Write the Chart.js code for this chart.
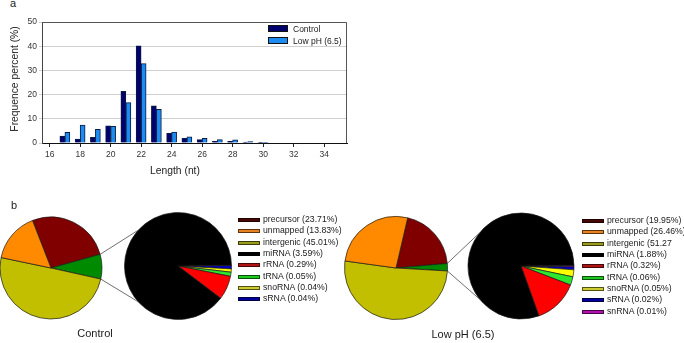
<!DOCTYPE html>
<html>
<head>
<meta charset="utf-8">
<script src="https://cdn.jsdelivr.net/npm/chart.js@4.4.1/dist/chart.umd.min.js"></script>
<style>
  html, body { margin: 0; padding: 0; background: #fff; }
  body { position: relative; width: 684px; height: 343px; overflow: hidden;
         font-family: "Liberation Sans", Arial, sans-serif; color: #1a1a1a; }
  .abs { position: absolute; }
  canvas { display: block; }
  .letter { font-size: 11px; line-height: 12px; }
  .axis-title { font-size: 10.3px; line-height: 12px; text-align: center; white-space: nowrap; color: #222; }
  .bar-key { font-size: 8.5px; line-height: 10px; white-space: nowrap; }
  .bar-key i { position: absolute; width: 18px; height: 5px; border: 1px solid #111; }
  .pie-key { font-size: 8.7px; line-height: 11px; white-space: nowrap; }
  .pie-key div { position: absolute; left: 0; }
  .pie-key i { position: absolute; left: 0; top: 4px; width: 20px; height: 2px; border: 1px solid rgba(0,0,0,0.6); box-sizing: content-box; }
  .pie-key span { position: absolute; }
  .pie-name { font-size: 11px; line-height: 13px; text-align: center; white-space: nowrap; }
</style>
</head>
<body>

<div class="abs letter" style="left:10px;top:-3px">a</div>
<canvas id="lengths" class="abs" width="360" height="180" style="left:0;top:0"></canvas>
<div class="abs axis-title" style="left:-45px;top:73px;width:120px;transform:rotate(-90deg)">Frequence percent (%)</div>
<div class="abs axis-title" style="left:125px;top:165px;width:100px">Length (nt)</div>
<div id="lengths-key" class="abs bar-key" style="left:268px;top:24px"></div>

<div class="abs letter" style="left:11px;top:199px">b</div>
<canvas id="pie-control-all" class="abs" width="112" height="112" style="left:-5px;top:212px"></canvas>
<canvas id="pie-control-small" class="abs" width="112" height="112" style="left:122px;top:210px"></canvas>
<canvas id="pie-low-all" class="abs" width="112" height="112" style="left:340px;top:212px"></canvas>
<canvas id="pie-low-small" class="abs" width="112" height="112" style="left:465px;top:210px"></canvas>
<canvas id="links" class="abs" width="684" height="343" style="left:0;top:0;pointer-events:none"></canvas>
<div id="key-control" class="abs pie-key" style="left:238px;top:214px"></div>
<div id="key-low" class="abs pie-key" style="left:582px;top:215px"></div>
<div class="abs pie-name" style="left:55px;top:327px;width:80px">Control</div>
<div class="abs pie-name" style="left:413px;top:328px;width:100px">Low pH (6.5)</div>

<script>
// ── Panel a: small RNA length distribution ────────────────────────────────
const lengthsNt = [17, 18, 19, 20, 21, 22, 23, 24, 25, 26, 27, 28, 29, 30];
const controlPct = [2.9, 1.6, 2.3, 7.1, 21.3, 40.2, 15.4, 4.0, 1.9, 1.4, 0.7, 0.7, 0.4, 0.25];
const lowPhPct = [4.4, 7.4, 5.6, 6.9, 16.7, 32.8, 13.9, 4.5, 2.5, 1.9, 1.4, 1.3, 0.6, 0.1];
const lengthTicks = [16, 18, 20, 22, 24, 26, 28, 30, 32, 34];
const seriesNames = ['Control', 'Low pH (6.5)'];
const seriesColors = ['#00006e', '#1c8cf2'];

// ── Panel b: read-class composition ───────────────────────────────────────
// Outer pies: precursor / other small RNAs / intergenic / unmapped
const allParts = ['precursor', 'other', 'intergenic', 'unmapped'];
const allColors = ['#800000', '#008a00', '#c2be00', '#ff8a00'];
const controlAll = [26.6, 7.8, 49.8, 15.8];
const lowPhAll = [19.95, 2.34, 51.27, 26.46];

// Zoomed pies: the "other" wedge broken down
const smallParts = ['snRNA', 'sRNA', 'snoRNA', 'tRNA', 'rRNA', 'miRNA'];
const smallColors = ['#c800c8', '#0000c8', '#ffff00', '#2ee62e', '#ff0000', '#000000'];
const controlSmall = [0, 0.04, 0.04, 0.05, 0.29, 3.59];
const lowPhSmall = [0.01, 0.02, 0.05, 0.06, 0.32, 1.88];

// Legends
const keyColors = {
  precursor: '#4a0505', unmapped: '#e8821e', intergenic: '#9a9a1e', miRNA: '#000000',
  rRNA: '#b01515', tRNA: '#1ec81e', snoRNA: '#cccc30', sRNA: '#0000a0', snRNA: '#b010b0',
};
const controlKeyNames = ['precursor', 'unmapped', 'intergenic', 'miRNA', 'rRNA', 'tRNA', 'snoRNA', 'sRNA'];
const controlKeyText = ['precursor (23.71%)', 'unmapped (13.83%)', 'intergenic (45.01%)', 'miRNA (3.59%)',
  'rRNA (0.29%)', 'tRNA (0.05%)', 'snoRNA (0.04%)', 'sRNA (0.04%)'];
const lowKeyNames = ['precursor', 'unmapped', 'intergenic', 'miRNA', 'rRNA', 'tRNA', 'snoRNA', 'sRNA', 'snRNA'];
const lowKeyText = ['precursor (19.95%)', 'unmapped (26.46%)', 'intergenic (51.27', 'miRNA (1.88%)',
  'rRNA (0.32%)', 'tRNA (0.06%)', 'snoRNA (0.05%)', 'sRNA (0.02%)', 'snRNA (0.01%)'];

Chart.defaults.font.family = '"Liberation Sans", Arial, sans-serif';
Chart.defaults.animation = false;

/** Draws the grey frame on top and right of the plot area. */
const framePlugin = {
  id: 'frame',
  afterDraw(chart) {
    const { ctx, chartArea: a } = chart;
    ctx.save();
    ctx.strokeStyle = '#555';
    ctx.lineWidth = 1;
    ctx.beginPath();
    ctx.moveTo(a.left, a.top + 0.5);
    ctx.lineTo(a.right - 0.5, a.top + 0.5);
    ctx.lineTo(a.right - 0.5, a.bottom);
    ctx.stroke();
    ctx.restore();
  },
};

function toPoints(values) {
  return values.map((v, i) => ({ x: lengthsNt[i], y: v }));
}

new Chart(document.getElementById('lengths'), {
  type: 'bar',
  data: {
    datasets: [
      { label: seriesNames[0], data: toPoints(controlPct), backgroundColor: seriesColors[0] },
      { label: seriesNames[1], data: toPoints(lowPhPct), backgroundColor: seriesColors[1] },
    ],
  },
  options: {
    responsive: false,
    layout: { padding: { top: 22, right: 13, left: 0, bottom: 0 } },
    datasets: { bar: { barThickness: 5, borderWidth: 1, borderColor: '#0a1a40', borderSkipped: 'start' } },
    plugins: { legend: { display: false }, tooltip: { enabled: false } },
    scales: {
      x: {
        type: 'linear',
        offset: false,
        min: 15.5,
        max: 35.5,
        afterFit(scale) { scale.height = 37; },
        afterBuildTicks(scale) { scale.ticks = lengthTicks.map((v) => ({ value: v })); },
        grid: { drawOnChartArea: false, tickLength: 4, color: '#222', offset: false },
        border: { color: '#111' },
        ticks: { padding: 3, color: '#333', font: { size: 8.5 } },
      },
      y: {
        min: 0,
        max: 50,
        afterFit(scale) { scale.width = 42; },
        grid: { color: '#cfcfcf', tickLength: 3 },
        border: { color: '#444' },
        ticks: { stepSize: 10, padding: 2, color: '#333', font: { size: 8.5 } },
      },
    },
  },
  plugins: [framePlugin],
});

// bar legend inside the plot
const lengthsKey = document.getElementById('lengths-key');
seriesNames.forEach((name, i) => {
  const row = document.createElement('div');
  row.style.cssText = `position:absolute;left:0;top:${i * 12}px;width:90px;height:10px`;
  row.innerHTML = `<i style="left:0;top:1px;background:${seriesColors[i]}"></i><span style="position:absolute;left:25px;top:0">${name}</span>`;
  lengthsKey.appendChild(row);
});

/**
 * Makes one pie.
 * @param {string} id canvas id
 * @param {string[]} labels
 * @param {number[]} values
 * @param {string[]} colors
 * @param {number} rotation start angle in degrees, clockwise from top
 * @param {number} radius
 */
function makePie(id, labels, values, colors, rotation, radius) {
  return new Chart(document.getElementById(id), {
    type: 'pie',
    data: {
      labels,
      datasets: [{
        data: values,
        backgroundColor: colors,
        borderColor: '#1a1a1a',
        borderWidth: 0.7,
      }],
    },
    options: {
      responsive: false,
      rotation,
      radius,
      plugins: { legend: { display: false }, tooltip: { enabled: false } },
    },
  });
}

const controlAllChart = makePie('pie-control-all', allParts, controlAll, allColors, 338.7, 51);
const controlSmallChart = makePie('pie-control-small', smallParts, controlSmall, smallColors, 89.5, 53.5);
const lowAllChart = makePie('pie-low-all', allParts, lowPhAll, allColors, 13.1, 51.5);
const lowSmallChart = makePie('pie-low-small', smallParts, lowPhSmall, smallColors, 89.5, 53);

// connector lines: edges of the "other" wedge → left side of the zoomed pie
function drawLinks(ctx, bigChart, smallChart, spreadDeg) {
  const other = bigChart.getDatasetMeta(0).data[allParts.indexOf('other')];
  const ox = bigChart.canvas.offsetLeft;
  const oy = bigChart.canvas.offsetTop;
  const disc = smallChart.getDatasetMeta(0).data[0];
  const sx = smallChart.canvas.offsetLeft + disc.x;
  const sy = smallChart.canvas.offsetTop + disc.y;
  const r = disc.outerRadius;
  const spread = spreadDeg * Math.PI / 180;
  [[other.startAngle, Math.PI + spread], [other.endAngle, Math.PI - spread]].forEach(([a, b]) => {
    ctx.beginPath();
    ctx.moveTo(ox + other.x + other.outerRadius * Math.cos(a), oy + other.y + other.outerRadius * Math.sin(a));
    ctx.lineTo(sx + r * Math.cos(b), sy + r * Math.sin(b));
    ctx.stroke();
  });
}

const linkCtx = document.getElementById('links').getContext('2d');
linkCtx.strokeStyle = '#4a4a4a';
linkCtx.lineWidth = 0.8;
drawLinks(linkCtx, controlAllChart, controlSmallChart, 42);
drawLinks(linkCtx, lowAllChart, lowSmallChart, 39);

function buildKey(elId, names, texts) {
  const el = document.getElementById(elId);
  names.forEach((name, i) => {
    const row = document.createElement('div');
    row.style.top = `${(i * 11.35).toFixed(2)}px`;
    row.innerHTML = `<i style="background:${keyColors[name]}"></i><span style="left:25px;top:0">${texts[i]}</span>`;
    el.appendChild(row);
  });
}
buildKey('key-control', controlKeyNames, controlKeyText);
buildKey('key-low', lowKeyNames, lowKeyText);
</script>
</body>
</html>
